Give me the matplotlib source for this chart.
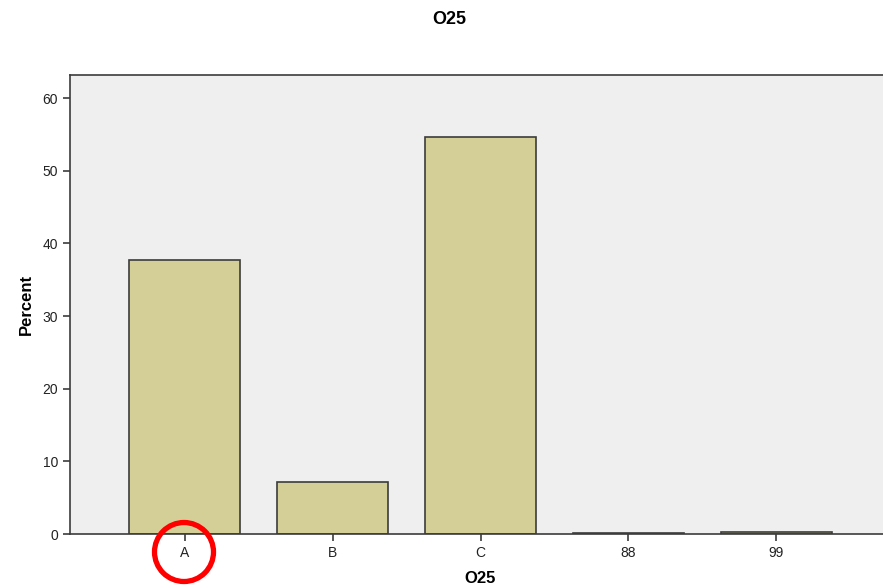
import matplotlib.pyplot as plt
from matplotlib.patches import Ellipse

# Data
categories = ["A", "B", "C", "88", "99"]
percent = [37.7, 7.2, 54.6, 0.1, 0.25]
yticks = [0, 10, 20, 30, 40, 50, 60]

plt.rcParams['font.family'] = ['Liberation Sans', 'DejaVu Sans']

fig = plt.figure(figsize=(8.83, 5.86), dpi=100)
# axes deliberately runs past the right edge, as in the original
ax = fig.add_axes([70/883, 1 - 534/586, 821/883, 459/586])
ax.set_facecolor("#efefef")

x = range(len(categories))
ax.bar(x, percent, width=0.75, color="#d3cf97", edgecolor="#3c3c3c", linewidth=1.2)

ax.set_xlim(-0.777, len(categories) - 1 + 0.777)
ax.set_ylim(0, 63.2)
ax.set_xticks(list(x))
ax.set_xticklabels(categories)
ax.set_yticks(yticks)
ax.tick_params(axis='both', direction='out', length=5, width=1.2, color="#3c3c3c",
               labelsize=10, labelcolor="#222222")

for side in ["left", "bottom", "top", "right"]:
    ax.spines[side].set_color("#3c3c3c")
    ax.spines[side].set_linewidth(1.2)

ax.set_ylabel("Percent", fontsize=12, fontweight="bold", labelpad=6)
ax.set_xlabel("O25", fontsize=12, fontweight="bold", labelpad=8)
fig.text(449/883, 1 - 20/586, "O25", fontsize=13, fontweight="bold",
         ha="center", va="center")

# red highlight circle around the "A" tick label
circ = Ellipse((184/883, 1 - 552/586), 59/883, 59/586, transform=fig.transFigure,
               fill=False, edgecolor="#ff0000", linewidth=3.8, clip_on=False)
fig.patches.append(circ)

plt.savefig("out.png", dpi=100)
